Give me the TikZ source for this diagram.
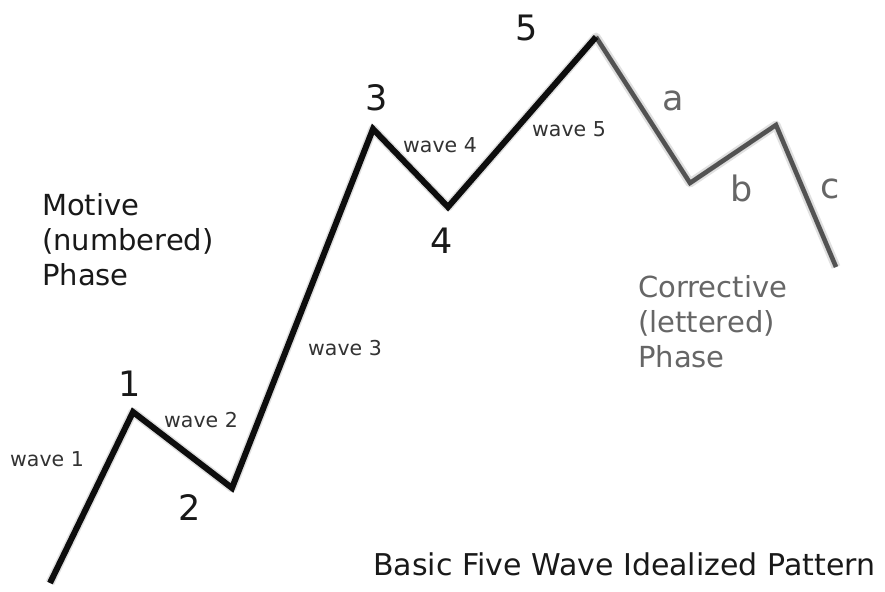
\documentclass[tikz,border=0pt]{standalone}
\usepackage{fontspec}
\setmainfont{DejaVu Sans}
\begin{document}
\begin{tikzpicture}[x=1pt,y=-1pt,
  motive/.style={line width=6pt,draw=black!95,line join=miter,line cap=butt},
  corrective/.style={line width=4.5pt,draw=black!68,line join=miter},
  shadowline/.style={line width=9pt,draw=black!12,line join=round},
  shadowcore/.style={line width=5pt,draw=black!22,line join=round},
  bignum/.style={text=black!90,font=\fontsize{35}{38}\selectfont,inner sep=0pt},
  bigletter/.style={text=black!60,font=\fontsize{35}{38}\selectfont,inner sep=0pt},
  wavelabel/.style={text=black!80,font=\fontsize{20.5}{24}\selectfont,inner sep=0pt},
  phase/.style={align=left,font=\fontsize{29}{35}\selectfont,inner sep=0pt,anchor=west},
]
\useasboundingbox (0,0) rectangle (885,591);
\fill[white] (0,0) rectangle (885,591);
% wave points
\coordinate (p0) at (50,583);
\coordinate (p1) at (133,412);
\coordinate (p2) at (232,488);
\coordinate (p3) at (373,129);
\coordinate (p4) at (448,207);
\coordinate (p5) at (596,37);
\coordinate (pa) at (690,183);
\coordinate (pb) at (776,125);
\coordinate (pc) at (836,267);
% shadows
\begin{scope}[shift={(3,5)}]
\draw[shadowline] (p0) -- (p1) -- (p2) -- (p3) -- (p4) -- (p5) -- (pa) -- (pb) -- (pc);
\draw[shadowcore] (p0) -- (p1) -- (p2) -- (p3) -- (p4) -- (p5) -- (pa) -- (pb) -- (pc);
\end{scope}
% lines
\draw[corrective] (p5) -- (pa) -- (pb) -- (pc);
\draw[motive] (p0) -- (p1) -- (p2) -- (p3) -- (p4) -- (p5);
% numbers
\node[bignum] (n1) at (130,384) {1};
\node[bignum] (n2) at (190,508) {2};
\node[bignum] (n3) at (377,98) {3};
\node[bignum] (n4) at (442,241) {4};
\node[bignum] (n5) at (527,28) {5};
% letters
\node[bigletter] (la) at (673,101) {a};
\node[bigletter] (lb) at (742,188) {b};
\node[bigletter] (lc) at (830,189) {c};
% wave labels
\node[wavelabel] (w1) at (47,459) {wave 1};
\node[wavelabel] (w2) at (201,420) {wave 2};
\node[wavelabel] (w3) at (345,348) {wave 3};
\node[wavelabel] (w4) at (440,145) {wave 4};
\node[wavelabel] (w5) at (569,129) {wave 5};
% phases
\node[phase,text=black!90] (mot) at (42,240) {Motive\\(numbered)\\Phase};
\node[phase,text=black!60] (cor) at (638,322) {Corrective\\(lettered)\\Phase};
% title
\node[text=black!90,font=\fontsize{30}{34}\selectfont,inner sep=0pt,anchor=west] (title) at (373,564) {Basic Five Wave Idealized Pattern};
\end{tikzpicture}
\end{document}
